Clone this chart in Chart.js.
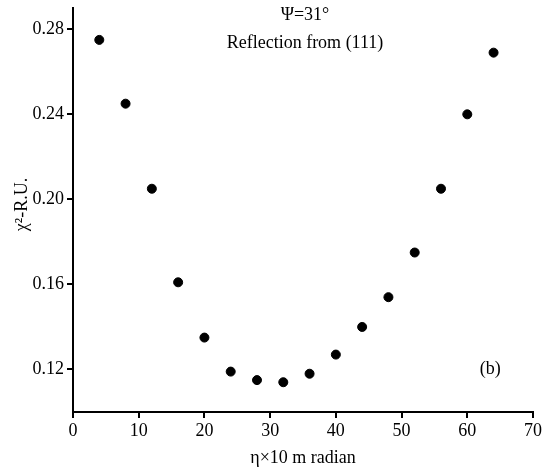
<!DOCTYPE html>
<html>
<head>
<meta charset="utf-8">
<script src="https://cdn.jsdelivr.net/npm/chart.js@4"></script>
<style>
    html, body { margin: 0; padding: 0; background: #fff; }
    #wrap { width: 542px; height: 469px; }
</style>
</head>
<body>
<div id="wrap"><canvas id="chi2Chart" width="542" height="469"></canvas></div>
<script>
// eta values (x10 m radian)
const etaValues = [4, 8, 12, 16, 20, 24, 28, 32, 36, 40, 44, 48, 52, 56, 60, 64];
// chi^2 residual (R.U.)
const chiValues = [0.275, 0.245, 0.205, 0.161, 0.135, 0.119, 0.115, 0.114, 0.118, 0.127, 0.140, 0.154, 0.175, 0.205, 0.240, 0.269];
const yTickValues = [0.12, 0.16, 0.20, 0.24, 0.28];
const xTickValues = [0, 10, 20, 30, 40, 50, 60, 70];

const serif = "'Liberation Serif', 'Times New Roman', serif";

/*== text written inside the plot + y title ==*/
const notesPlugin = {
    id: 'notes',
    afterDatasetsDraw(chart) {
        const { ctx, scales: { x, y } } = chart;
        ctx.save();
        ctx.fillStyle = '#000';
        ctx.textAlign = 'center';
        ctx.textBaseline = 'middle';
        ctx.font = '18px ' + serif;
        ctx.fillText('\u03A8=31\u00B0', x.getPixelForValue(35.3), 15);
        ctx.fillText('Reflection from (111)', x.getPixelForValue(35.3), 43);
        ctx.fillText('(b)', x.getPixelForValue(63.5), y.getPixelForValue(0.12));
        // y axis title, a bit above the middle like the original
        ctx.translate(22, y.getPixelForValue(0.1976));
        ctx.rotate(-Math.PI / 2);
        ctx.fillText('\u03C7\u00B2-R.U.', 0, 0);
        ctx.restore();
    }
};

const data = etaValues.map((v, i) => ({ x: v, y: chiValues[i] }));

const ctx = document.getElementById('chi2Chart').getContext('2d');
new Chart(ctx, {
    type: 'scatter',
    data: {
        datasets: [{
            data: data,
            backgroundColor: '#000',
            borderColor: '#000',
            pointRadius: 4.5,
            pointHoverRadius: 4.5
        }]
    },
    options: {
        responsive: false,
        animation: false,
        layout: { autoPadding: false, padding: { top: 8, right: 9, left: 0, bottom: 0 } },
        scales: {
            x: {
                type: 'linear',
                min: 0,
                max: 70,
                afterBuildTicks: (axis) => { axis.ticks = xTickValues.map(v => ({ value: v })); },
                afterFit: (axis) => {
                    axis.height = 57;
                    axis.paddingLeft = 0;
                    axis.paddingRight = 0;
                },
                grid: { drawOnChartArea: false, drawTicks: true, tickLength: 6, color: '#000', lineWidth: 2 },
                border: { display: true, color: '#000', width: 2 },
                ticks: { color: '#000', padding: 2, font: { family: serif, size: 18 } },
                title: {
                    display: true,
                    text: '\u03B7\u00D710 m radian',
                    color: '#000',
                    padding: { top: 0, bottom: 0 },
                    font: { family: serif, size: 18 }
                }
            },
            y: {
                type: 'linear',
                min: 0.10,
                max: 0.29,
                afterBuildTicks: (axis) => { axis.ticks = yTickValues.map(v => ({ value: v })); },
                afterFit: (axis) => {
                    axis.width = 73;
                    axis.paddingTop = 0;
                    axis.paddingBottom = 0;
                },
                grid: { drawOnChartArea: false, drawTicks: true, tickLength: 6, color: '#000', lineWidth: 2 },
                border: { display: true, color: '#000', width: 2 },
                ticks: {
                    color: '#000',
                    padding: 3,
                    font: { family: serif, size: 18 },
                    callback: (v) => v.toFixed(2)
                },
                title: { display: false }
            }
        },
        plugins: {
            legend: { display: false },
            tooltip: { enabled: false }
        }
    },
    plugins: [notesPlugin]
});
</script>
</body>
</html>
